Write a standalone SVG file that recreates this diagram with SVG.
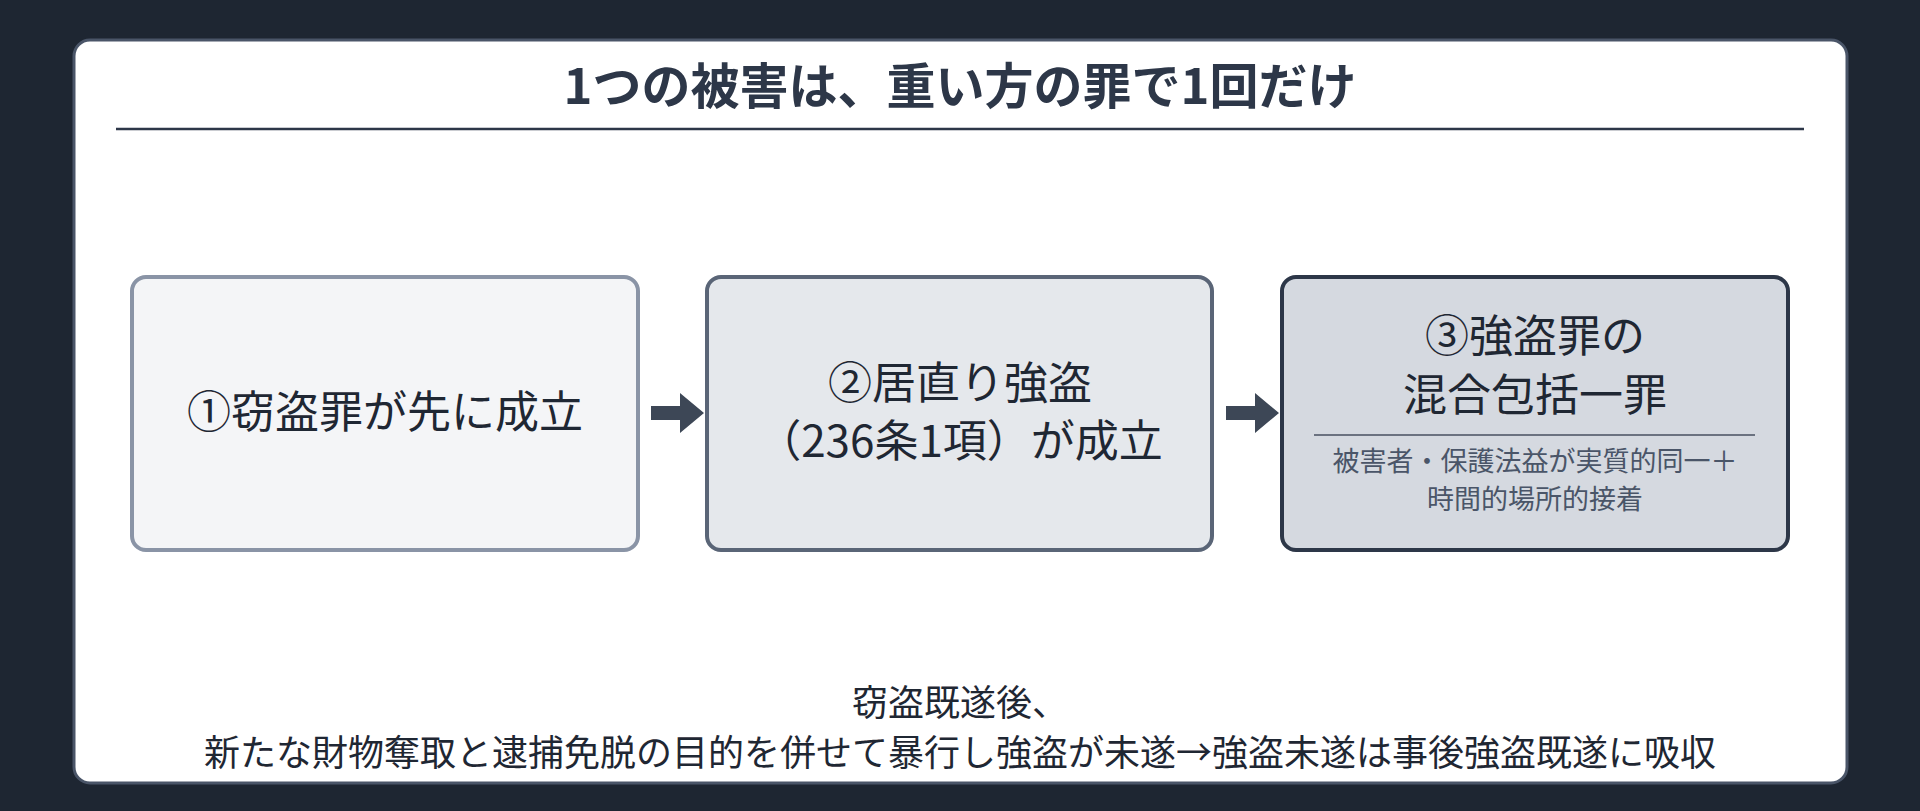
<svg xmlns="http://www.w3.org/2000/svg" width="1920" height="811" viewBox="0 0 1920 811">
<style>
text{font-family:"Noto Sans CJK JP","Noto Sans",sans-serif;fill:#1f2733;text-anchor:middle}
.t{font-size:49px;font-weight:bold;fill:#2d3748}
.b{font-size:44px}
.s{font-size:27px;fill:#4a5568}
.f{font-size:36px}
</style>
<rect width="1920" height="811" fill="#1e2632"/>
<rect x="74" y="40" width="1773" height="743" rx="16" fill="#fff" stroke="#4a5568" stroke-width="3"/>
<text class="t" x="960" y="104">1つの被害は、重い方の罪で1回だけ</text>
<line x1="116" y1="129" x2="1804" y2="129" stroke="#2d3748" stroke-width="2.5"/>
<g id="connectors" fill="#3d4756">
<path d="M651 406H680V393L704 413L680 433V420H651Z"/>
<path d="M1226 406H1255V393L1279 413L1255 433V420H1226Z"/>
</g>
<g id="n1">
<rect x="132" y="277" width="506" height="273" rx="14" fill="#f4f5f7" stroke="#8a94a6" stroke-width="4"/>
<text class="b" x="385" y="428">①窃盗罪が先に成立</text>
</g>
<g id="n2">
<rect x="707" y="277" width="505" height="273" rx="14" fill="#e5e8ec" stroke="#5a6577" stroke-width="4"/>
<text class="b" x="960" y="399">②居直り強盗</text>
<text class="b" x="960" y="457">（236条1項）が成立</text>
</g>
<g id="n3">
<rect x="1282" y="277" width="506" height="273" rx="14" fill="#d5d9e0" stroke="#2d3748" stroke-width="4"/>
<text class="b" x="1535" y="352">③強盗罪の</text>
<text class="b" x="1535" y="411">混合包括一罪</text>
<line x1="1314" y1="435" x2="1755" y2="435" stroke="#6b7280" stroke-width="2"/>
<text class="s" x="1535" y="471">被害者・保護法益が実質的同一＋</text>
<text class="s" x="1535" y="509">時間的場所的接着</text>
</g>
<g id="note">
<text class="f" x="960" y="716">窃盗既遂後、</text>
<text class="f" x="960" y="766">新たな財物奪取と逮捕免脱の目的を併せて暴行し強盗が未遂→強盗未遂は事後強盗既遂に吸収</text>
</g>
</svg>
